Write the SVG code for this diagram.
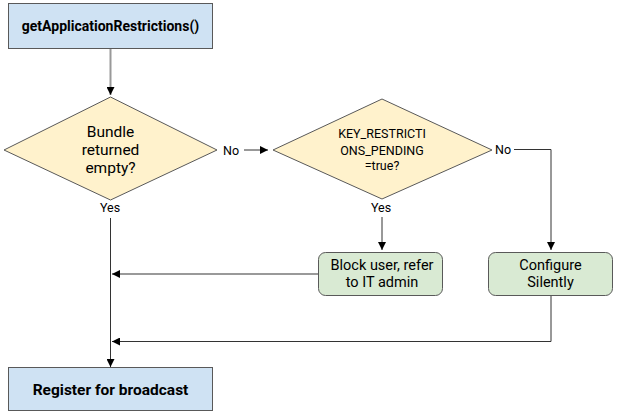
<svg xmlns="http://www.w3.org/2000/svg" width="620" height="415" viewBox="0 0 620 415">
<defs>
<style>
text{font-family:Roboto,"Liberation Sans",Arial,sans-serif;fill:#000;text-anchor:middle}
.bold{font-weight:bold;font-size:14px}
.bold2{font-weight:bold;font-size:15.5px}
.d1{font-size:15.5px}
.d2{font-size:12.5px}
.g{font-size:14.5px}
.lbl{font-size:12.5px}
.blue{fill:#cfe2f3;stroke:#595959;stroke-width:1}
.dia{fill:#fff2cc;stroke:#595959;stroke-width:1}
.green{fill:#d9ead3;stroke:#595959;stroke-width:1}
.ln{fill:none;stroke:#333;stroke-width:1}
.lg{fill:none;stroke:#999;stroke-width:2}
</style>
<marker id="ah" viewBox="0 0 10 10" refX="10" refY="5" markerWidth="8" markerHeight="8" markerUnits="userSpaceOnUse" orient="auto">
<path d="M0,0L10,5L0,10z" fill="#000"/>
</marker>
</defs>
<g id="connectors">
<path class="lg" d="M110.5,49V95" marker-end="url(#ah)"/>
<path class="ln" d="M110.5,218V367" marker-end="url(#ah)"/>
<path class="ln" d="M244,150H268" marker-end="url(#ah)"/>
<path class="ln" d="M514,149.5H551V250" marker-end="url(#ah)"/>
<path class="ln" d="M382,217V250" marker-end="url(#ah)"/>
<path class="lg" d="M318,274H112" marker-end="url(#ah)"/>
<path class="ln" d="M551,296V341.5H112" marker-end="url(#ah)"/>
<text class="lbl" x="231" y="155">No</text>
<text class="lbl" x="110" y="212">Yes</text>
<text class="lbl" x="503" y="154">No</text>
<text class="lbl" x="381" y="212">Yes</text>
</g>
<g id="start">
<rect class="blue" x="8.5" y="3.5" width="204" height="45"/>
<text class="bold" x="110.5" y="31">getApplicationRestrictions()</text>
</g>
<g id="bundle-empty">
<polygon class="dia" points="110.5,97 217,150 110.5,200 4,150"/>
<text class="d1" x="110.5" y="137">Bundle</text>
<text class="d1" x="110.5" y="155">returned</text>
<text class="d1" x="110.5" y="173">empty?</text>
</g>
<g id="pending">
<polygon class="dia" points="382,99 492,150 382,199 273,150"/>
<text class="d2" x="382" y="138">KEY_RESTRICTI</text>
<text class="d2" x="382" y="154.5">ONS_PENDING</text>
<text class="d2" x="382" y="170">=true?</text>
</g>
<g id="block-user">
<rect class="green" x="318.5" y="252.5" width="124" height="43" rx="7"/>
<text class="g" x="382" y="270">Block user, refer</text>
<text class="g" x="382" y="287">to IT admin</text>
</g>
<g id="configure">
<rect class="green" x="488.5" y="252.5" width="124" height="43" rx="7"/>
<text class="g" x="550.5" y="270">Configure</text>
<text class="g" x="550.5" y="287">Silently</text>
</g>
<g id="register">
<rect class="blue" x="8.5" y="367.5" width="204" height="43"/>
<text class="bold2" x="110.5" y="395">Register for broadcast</text>
</g>
</svg>
